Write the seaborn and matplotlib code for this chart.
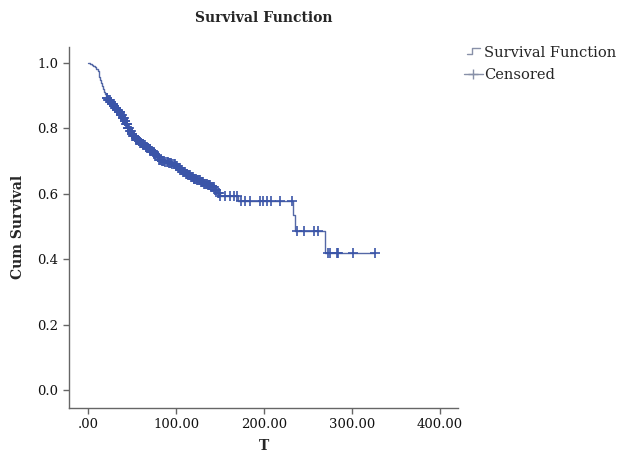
import numpy as np
import pandas as pd
import matplotlib
matplotlib.use("Agg")
import matplotlib.pyplot as plt
from matplotlib.lines import Line2D
from matplotlib.legend_handler import HandlerBase
import seaborn as sns

# Kaplan-Meier step curve (event times and survival after each event)
event_times = [0, 2, 4, 6, 8, 9.5, 11, 12, 13, 14, 15, 16, 17, 18, 19, 20, 21, 23, 25,
               27, 29, 31, 33, 35, 37, 39, 41, 43, 45, 47, 49, 51, 53, 55, 57, 59, 61,
               63, 65, 67, 69, 71, 73, 75, 77, 79, 81, 84, 88, 92, 96, 99, 102, 105,
               108, 111, 114, 117, 120, 124, 128, 132, 136, 140, 144, 147, 150, 170,
               233.5, 235.5, 269]
survival = [1.0, 0.998, 0.995, 0.991, 0.987, 0.982, 0.975, 0.967, 0.958, 0.949, 0.940,
            0.930, 0.920, 0.911, 0.904, 0.898, 0.894, 0.888, 0.882, 0.875, 0.868, 0.862,
            0.856, 0.850, 0.842, 0.832, 0.822, 0.813, 0.802, 0.792, 0.783, 0.776, 0.770,
            0.765, 0.761, 0.757, 0.753, 0.748, 0.744, 0.740, 0.736, 0.732, 0.728, 0.723,
            0.719, 0.712, 0.705, 0.700, 0.697, 0.694, 0.690, 0.686, 0.680, 0.673, 0.667,
            0.661, 0.657, 0.651, 0.646, 0.641, 0.636, 0.630, 0.626, 0.620, 0.612, 0.603,
            0.592, 0.577, 0.536, 0.486, 0.418]

# Censored observation times
censored_times = [21.5, 22, 23, 23.5, 24.5, 25, 26, 26.5, 27.5, 28, 28.5, 29.5, 30, 31,
                  31.5, 32, 33, 33.5, 34.5, 35, 36, 36.5, 37, 38, 38.5, 39.5, 40, 40.5,
                  42, 42.5, 43, 44, 44.5, 45.5, 46, 46.5, 48, 48.5, 50, 50.5, 51, 52,
                  52.5, 54, 54.5, 55, 56, 56.5, 58, 58.5, 59, 60, 60.5, 62, 62.5, 63, 64,
                  64.5, 66, 66.5, 67, 68, 68.5, 70, 70.5, 71, 72, 72.5, 74, 74.5, 75, 76,
                  76.5, 78, 79, 80, 81, 82, 83, 84, 85, 86.5, 88, 89.5, 91, 92, 93, 94.5,
                  96, 97.5, 98.5, 100, 101, 102, 103, 104, 105, 106, 107, 108, 109, 110,
                  111, 112, 113, 114, 115, 116, 117, 118, 119, 120, 121, 122, 123, 124,
                  125, 126, 127, 128, 129, 130, 131, 132, 133, 134, 135, 136, 137, 138,
                  139, 140, 141, 142, 143, 144, 145, 146, 148, 149, 150.5, 156, 161, 166,
                  169, 174, 178, 184, 195, 199, 203, 208, 218, 232, 237, 245, 257, 261,
                  272.5, 275, 283, 284, 301, 326]

x_ticks = [0, 100, 200, 300, 400]
x_tick_labels = [".00", "100.00", "200.00", "300.00", "400.00"]
y_ticks = [0.0, 0.2, 0.4, 0.6, 0.8, 1.0]
y_tick_labels = ["0.0", "0.2", "0.4", "0.6", "0.8", "1.0"]

sns.set_style("white")
plt.rcParams["font.family"] = ["DejaVu Serif"]

line_color = "#5468a6"
mark_color = "#3b55a8"

# Build data frames
curve_t = list(event_times) + [censored_times[-1]]
curve_s = list(survival) + [survival[-1]]
curve = pd.DataFrame({"T": curve_t, "S": curve_s})

ev = np.array(event_times)
sv = np.array(survival)
idx = np.searchsorted(ev, np.array(censored_times), side="right") - 1
cens = pd.DataFrame({"T": censored_times, "S": sv[idx]})

fig = plt.figure(figsize=(6.24, 4.57), dpi=100)
ax = fig.add_axes([0.1106, 0.108, 0.6234, 0.789])

sns.lineplot(data=curve, x="T", y="S", ax=ax, drawstyle="steps-post",
             color=line_color, linewidth=1.0, estimator=None, sort=False)
sns.scatterplot(data=cens, x="T", y="S", ax=ax, marker="+", s=48,
                color=mark_color, linewidth=1.2, zorder=3)

ax.set_xlim(-21.6, 420.5)
ax.set_ylim(-0.054, 1.049)
ax.set_xticks(x_ticks)
ax.set_xticklabels(x_tick_labels)
ax.set_yticks(y_ticks)
ax.set_yticklabels(y_tick_labels)

for side in ["top", "right"]:
    ax.spines[side].set_visible(False)
for side in ["left", "bottom"]:
    ax.spines[side].set_color("#666666")
    ax.spines[side].set_linewidth(1.0)
ax.tick_params(axis="both", which="major", direction="out", length=4, width=1,
               color="#666666", labelsize=9.5, labelcolor="#111111",
               bottom=True, left=True)

ax.set_xlabel("T", fontsize=10, fontweight="bold", labelpad=6)
ax.set_ylabel("Cum Survival", fontsize=10, fontweight="bold", labelpad=9)
ax.set_title("Survival Function", fontsize=10, fontweight="bold", pad=18)


class StepHandler(HandlerBase):
    def create_artists(self, legend, orig_handle, xdescent, ydescent, width, height,
                       fontsize, trans):
        w = width
        h = height
        xs = [0.15 * w, 0.45 * w, 0.45 * w, 0.85 * w]
        ys = [0.35 * h, 0.35 * h, 0.95 * h, 0.95 * h]
        ln = Line2D(xs, ys, color="#8890a8", linewidth=1.0, transform=trans)
        return [ln]


h1 = Line2D([], [], color="#8890a8")
h2 = Line2D([], [], color="#8890a8", marker="+", markersize=7, linewidth=1.0)
leg = ax.legend([h1, h2], ["Survival Function", "Censored"],
                handler_map={h1: StepHandler()},
                loc="upper left", bbox_to_anchor=(1.0, 1.018), frameon=False,
                fontsize=10.5, handlelength=1.3, handletextpad=0.1,
                labelspacing=0.5, borderaxespad=0)

fig.savefig("out.png", dpi=100)
